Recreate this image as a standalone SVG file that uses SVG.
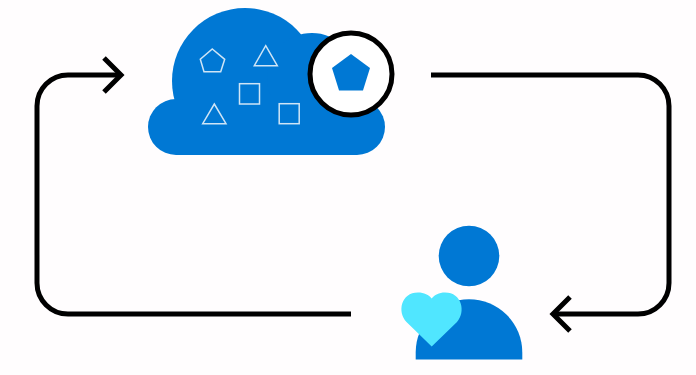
<svg xmlns="http://www.w3.org/2000/svg" width="696" height="375" viewBox="0 0 696 375">
<style>
.blue{fill:#0078d4}
.outline{fill:none;stroke:#cfe5f6;stroke-width:1.5}
.conn{fill:none;stroke:#000;stroke-width:5}
</style>
<rect width="696" height="375" fill="#fffdfe"/>
<g id="connectors">
<path class="conn" d="M351 314H68A31 31 0 0 1 37 283V106A31 31 0 0 1 68 75H120"/>
<path class="conn" d="M104 58L121 75L104 92"/>
<path class="conn" d="M431 75H638A31 31 0 0 1 669 106V283A31 31 0 0 1 638 314H554"/>
<path class="conn" d="M570 297L553 314L570 331"/>
</g>
<g id="cloud">
<circle class="blue" cx="245" cy="81" r="73"/>
<circle class="blue" cx="176" cy="127" r="28"/>
<circle class="blue" cx="357" cy="127" r="28"/>
<circle class="blue" cx="312" cy="78" r="45"/>
<rect class="blue" x="176" y="100" width="181" height="55"/>
<polygon class="outline" points="212.300,49 224.700,59.300 220.700,71.700 204,71.700 200.300,59.300"/>
<polygon class="outline" points="265.700,45.700 277.300,65.700 254.300,65.700"/>
<polygon class="outline" points="214.300,104 226,123.700 202.700,123.700"/>
<rect class="outline" x="239.500" y="83.700" width="20" height="20.300"/>
<rect class="outline" x="279.200" y="103.700" width="20" height="20"/>
</g>
<g id="selected-item">
<circle cx="351" cy="74" r="41" fill="#fff" stroke="#000" stroke-width="5"/>
<polygon class="blue" points="351,54 370,68 363,90.500 339,90.500 332,68"/>
</g>
<g id="person">
<circle class="blue" cx="469" cy="256" r="30.300"/>
<path class="blue" d="M415.700 359.500V352.500A53.300 53.300 0 0 1 522.300 352.500V359.500Z"/>
<path fill="#50e6ff" d="M431.700 346.500L406.500 322C397 312 401 292.500 418 292.500C424 292.500 429 295 431.700 298.500C434.500 295 439 292.500 445 292.500C462 292.500 466 312 457 322Z"/>
</g>
</svg>
